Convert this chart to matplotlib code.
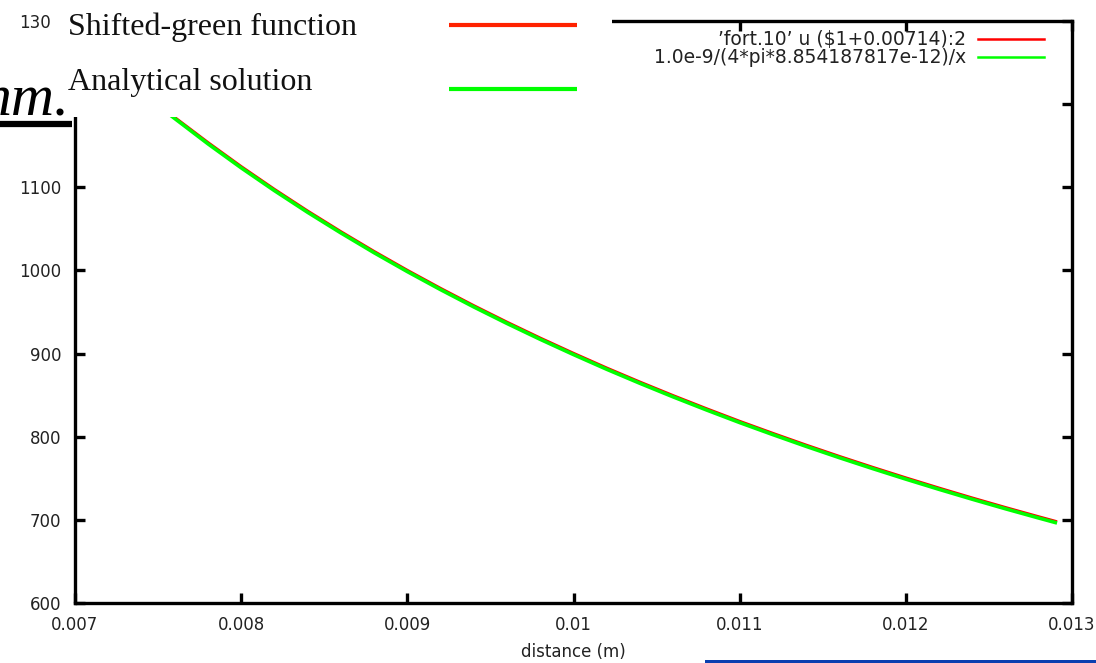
import matplotlib
matplotlib.use("Agg")
import matplotlib.pyplot as plt
from matplotlib.patches import Rectangle
from matplotlib.lines import Line2D

# distance (m) and potential values
distance = [0.00757, 0.0078, 0.0080, 0.0082, 0.0084, 0.0086, 0.0088, 0.0090,
            0.0092, 0.0094, 0.0096, 0.0098, 0.0100, 0.0102, 0.0104, 0.0106,
            0.0108, 0.0110, 0.0112, 0.0114, 0.0116, 0.0118, 0.0120, 0.0122,
            0.0124, 0.0126, 0.0128, 0.01291]
shifted_green = [1188.5, 1153.8, 1124.9, 1097.5, 1071.4, 1046.6, 1022.8, 1000.1,
                 978.4, 957.6, 937.7, 918.6, 900.3, 882.6, 865.7, 849.4,
                 833.7, 818.5, 804.0, 789.9, 776.3, 763.2, 750.5, 738.2,
                 726.3, 714.8, 703.7, 697.7]
analytical = [1187.3, 1152.3, 1123.4, 1096.0, 1069.9, 1045.1, 1021.3, 998.6,
              976.9, 956.1, 936.2, 917.1, 898.8, 881.1, 864.2, 847.9,
              832.2, 817.0, 802.5, 788.4, 774.8, 761.7, 749.0, 736.7,
              724.8, 713.3, 702.2, 696.2]

x_ticks = [0.007, 0.008, 0.009, 0.010, 0.011, 0.012, 0.013]
x_tick_labels = ["0.007", "0.008", "0.009", "0.01", "0.011", "0.012", "0.013"]
y_ticks = [600, 700, 800, 900, 1000, 1100, 1200, 1300]
y_tick_labels = ["600", "700", "800", "900", "1000", "1100", "1200", "1300"]

legend_labels = ["\u2019fort.10\u2019 u ($1+0.00714):2", "1.0e-9/(4*pi*8.854187817e-12)/x"]
overlay_labels = ["Shifted-green function", "Analytical solution"]

W, H = 1096, 663
fig = plt.figure(figsize=(W / 100, H / 100), dpi=100)
fig.patch.set_facecolor("white")

# gnuplot-style plot area
ax = fig.add_axes([75 / W, 60 / H, (1072 - 75) / W, (603 - 21) / H])
ax.plot(distance, shifted_green, color="#ff0000", lw=2.2, solid_capstyle="butt")
ax.plot(distance, analytical, color="#00ff00", lw=2.6, solid_capstyle="butt")
ax.set_xlim(0.007, 0.013)
ax.set_ylim(600, 1300)
ax.set_xticks(x_ticks)
ax.set_xticklabels(x_tick_labels)
ax.set_yticks(y_ticks)
ax.set_yticklabels(y_tick_labels)
for s in ax.spines.values():
    s.set_linewidth(2.4)
    s.set_color("black")
ax.tick_params(direction="in", length=7, width=2.4, top=True, right=True,
               labelsize=12, colors="black")
ax.tick_params(axis="x", pad=9)
ax.tick_params(axis="y", pad=10)
for lbl in ax.get_xticklabels() + ax.get_yticklabels():
    lbl.set_color("#222222")
# the 1200 label sits under the slide title
ax.get_yticklabels()[6].set_visible(False)
ax.set_xlabel("distance (m)", fontsize=12, color="#222222", labelpad=7)

# key in the upper right corner
key_rows = [0.969, 0.938]
key_colors = ["#ff0000", "#00ff00"]
for row, label, col in zip(key_rows, legend_labels, key_colors):
    ax.text(0.894, row, label, transform=ax.transAxes, ha="right", va="center",
            fontsize=13.5, color="#222222")
    ax.add_line(Line2D([0.906, 0.972], [row, row], transform=ax.transAxes,
                       color=col, lw=1.8))

# slide layer drawn on top of the plot
ov = fig.add_axes([0, 0, 1, 1], zorder=10)
ov.set_xlim(0, W)
ov.set_ylim(H, 0)
ov.axis("off")
ov.patch.set_alpha(0)
ov.add_patch(Rectangle((51, 0), 561, 117, facecolor="white", edgecolor="none"))

serif = ["Liberation Serif", "DejaVu Serif"]
ov.text(68, 35, overlay_labels[0], family=serif, fontsize=23, color="#111111",
        ha="left", va="baseline")
ov.text(68, 90, overlay_labels[1], family=serif, fontsize=23, color="#111111",
        ha="left", va="baseline")
ov.plot([449, 577], [25, 25], color="#ff2200", lw=3.0, solid_capstyle="butt")
ov.plot([449, 577], [89, 89], color="#00ff00", lw=3.0, solid_capstyle="butt")

ov.text(70, 115, "nm.", family=serif, style="italic", fontsize=43,
        color="black", ha="right", va="baseline")
ov.plot([0, 72], [124, 124], color="black", lw=4.5, solid_capstyle="butt")

ov.add_patch(Rectangle((705, 660), W - 705, 3, facecolor="#0a3fb0", edgecolor="none"))

fig.savefig("out.png", dpi=100, facecolor="white")
